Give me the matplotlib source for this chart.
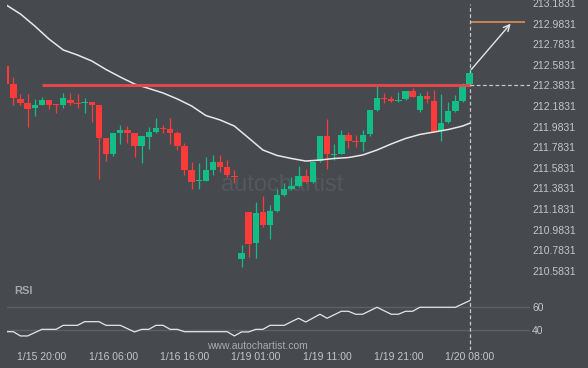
import numpy as np
import matplotlib.pyplot as plt

# hourly candles
opens = [212.572, 212.394, 212.255, 212.216, 212.161, 212.193, 212.239, 212.203, 212.193, 212.239,
         212.213, 212.216, 212.223, 212.193, 211.873, 211.717, 211.924, 211.951, 211.921, 211.798,
         211.887, 211.931, 211.970, 211.960, 211.921, 211.798, 211.562, 211.452, 211.458, 211.562,
         211.640, 211.588, 211.507, 210.698, 211.154, 210.856, 211.154, 211.028, 211.167, 211.319,
         211.375, 211.407, 211.504, 211.448, 211.652, 211.892, 211.708, 211.720, 211.899, 211.844,
         211.834, 211.907, 212.140, 212.258, 212.249, 212.235, 212.247, 212.329, 212.145, 212.281,
         212.232, 211.944, 212.028, 212.135, 212.232, 212.397]
highs = [212.582, 212.465, 212.300, 212.297, 212.249, 212.268, 212.242, 212.203, 212.307, 212.307,
         212.297, 212.258, 212.223, 212.193, 211.873, 211.924, 211.999, 211.989, 211.921, 211.892,
         211.977, 212.067, 212.002, 212.067, 211.938, 211.821, 211.643, 211.627, 211.688, 211.708,
         211.708, 211.659, 211.562, 210.834, 211.154, 211.254, 211.310, 211.222, 211.375, 211.433,
         211.491, 211.601, 211.575, 211.643, 211.892, 212.054, 211.815, 211.946, 211.931, 211.899,
         211.948, 212.145, 212.378, 212.310, 212.281, 212.320, 212.329, 212.358, 212.313, 212.332,
         212.339, 212.297, 212.225, 212.290, 212.410, 212.550]
lows = [212.388, 212.193, 212.193, 211.983, 212.089, 212.189, 212.152, 212.113, 212.167, 212.193,
        212.167, 212.113, 212.031, 211.470, 211.654, 211.698, 211.819, 211.827, 211.688, 211.633,
        211.769, 211.921, 211.919, 211.815, 211.756, 211.513, 211.373, 211.375, 211.455, 211.513,
        211.546, 211.494, 211.439, 210.617, 210.720, 210.704, 211.008, 210.889, 211.154, 211.310,
        211.368, 211.397, 211.436, 211.436, 211.640, 211.575, 211.659, 211.717, 211.776, 211.781,
        211.747, 211.897, 212.135, 212.216, 212.223, 212.227, 212.242, 212.271, 212.125, 212.210,
        211.934, 211.847, 212.023, 212.130, 212.227, 212.392]
closes = [212.400, 212.258, 212.216, 212.152, 212.193, 212.239, 212.193, 212.193, 212.261, 212.216,
          212.203, 212.223, 212.193, 211.876, 211.717, 211.924, 211.951, 211.924, 211.798, 211.892,
          211.931, 211.970, 211.960, 211.924, 211.798, 211.562, 211.448, 211.462, 211.562, 211.640,
          211.594, 211.513, 211.497, 210.753, 210.843, 211.141, 211.028, 211.164, 211.319, 211.375,
          211.407, 211.504, 211.448, 211.643, 211.892, 211.720, 211.720, 211.899, 211.841, 211.834,
          211.899, 212.145, 212.258, 212.247, 212.235, 212.242, 212.329, 212.274, 212.281, 212.249,
          211.934, 212.021, 212.135, 212.232, 212.378, 212.501]

# moving average (sampled every other candle)
ma_idx = [0, 2, 4, 6, 8, 10, 12, 14, 16, 18, 20, 22, 24, 26, 28, 30, 32, 34, 36, 38, 40, 42, 44,
          46, 48, 50, 52, 54, 56, 58, 60, 62, 64, 65]
ma_val = [213.165, 213.077, 212.961, 212.834, 212.728, 212.679, 212.621, 212.538, 212.465, 212.397,
          212.354, 212.310, 212.252, 212.184, 212.091, 212.048, 211.989, 211.873, 211.756, 211.703,
          211.674, 211.649, 211.659, 211.674, 211.683, 211.708, 211.756, 211.815, 211.868, 211.907,
          211.931, 211.955, 211.989, 212.016]

# RSI line vertices
rsi_idx = [0, 1, 2, 3, 5, 7, 8, 10, 11, 13, 14, 16, 18, 19, 20, 21, 22, 23, 24, 25, 31, 32, 33, 34,
           35, 36, 37, 39, 40, 41, 42, 44, 45, 47, 48, 49, 50, 52, 54, 55, 56, 57, 58, 63, 65]
rsi_val = [38.8, 38.8, 35.2, 35.2, 40.8, 40.8, 44.2, 44.2, 47.3, 47.3, 44.2, 44.2, 38.6, 40.8, 40.8,
           44.2, 44.2, 40.8, 40.8, 38.8, 38.8, 35.2, 38.6, 38.6, 40.8, 40.8, 44.2, 44.2, 47.3, 50.2,
           47.0, 53.6, 50.2, 56.1, 56.1, 53.6, 53.6, 59.5, 53.6, 53.6, 56.1, 56.1, 59.5, 59.5, 65.1]

tick_idx = [5, 15, 25, 35, 45, 55, 65]
tick_labels = ['1/15 20:00', '1/16 06:00', '1/16 16:00', '1/19 01:00', '1/19 11:00', '1/19 21:00', '1/20 08:00']
price_ticks = [210.5831 + 0.2 * k for k in range(14)]

resistance = 212.388
resistance_start = 5
last_price_level = 212.3831
target_price = 213.004
arrow_end_idx = 71.0
target_end_idx = 72.8

BG = '#46494e'
GREEN = '#12bd86'
RED = '#fb3a3a'
TXT = '#c4c6c8'

plt.rcParams['font.family'] = ['Liberation Sans', 'DejaVu Sans']

W, H = 588, 368
fig = plt.figure(figsize=(W / 100, H / 100), dpi=100)
fig.patch.set_facecolor(BG)
ax = fig.add_axes([6.7 / W, 1 - 280 / H, 523.3 / W, 280 / H])
ax2 = fig.add_axes([6.7 / W, 1 - 350 / H, 523.3 / W, 70 / H])
xlim = (0.07, 73.46)

for a in (ax, ax2):
    a.set_facecolor(BG)
    for s in a.spines.values():
        s.set_visible(False)
    a.set_xlim(*xlim)

# candles
x = np.arange(len(opens))
o, h, l, c = map(np.array, (opens, highs, lows, closes))
cols = np.where(c >= o, GREEN, RED)
ax.vlines(x, l, h, colors=cols, lw=0.9, zorder=2)
ax.bar(x, np.maximum(np.abs(c - o), 0.009), bottom=np.minimum(o, c), width=0.9,
       color=cols, linewidth=0, zorder=3)

ax.plot(ma_idx, ma_val, color='#e8e8e8', lw=1.1, zorder=4)
ax.hlines(resistance, resistance_start, x[-1], color='#e8474b', lw=2.2, alpha=0.95, zorder=5)
ax.hlines(last_price_level, x[-1], xlim[1], color='#c8c8c8', lw=0.9, linestyles=(0, (3, 2)))
ax.hlines(target_price, x[-1], target_end_idx, color='#f0915a', lw=1.1)
ax.annotate('', xy=(arrow_end_idx, target_price), xytext=(x[-1], highs[-1] - 0.03),
            arrowprops=dict(arrowstyle='->', color='#e6e6e6', lw=1.0, mutation_scale=11))
ax.axvline(x[-1], ymax=1 - 4 / 280, color='#c8c8c8', lw=0.9, ls=(0, (3, 2)))
ax2.axvline(x[-1], color='#c8c8c8', lw=0.9, ls=(0, (3, 2)))

ax.text(0.5255, 0.339, 'autochartist', transform=ax.transAxes, ha='center', va='center',
        fontsize=17, color='#54575c', zorder=1)

ax.set_ylim(210.4936, 213.2132)
ax.set_xticks([])
ax.yaxis.tick_right()
ax.set_yticks(price_ticks)
ax.set_yticklabels(['%.4f' % p for p in price_ticks])
ax.tick_params(axis='y', length=0, pad=1.5, labelsize=7.5, labelcolor=TXT)

# RSI panel
ax2.plot(rsi_idx, rsi_val, color='#e6e6e6', lw=0.9)
ax2.set_ylim(23.3, 82.6)
ax2.set_yticks([40, 60])
ax2.yaxis.tick_right()
ax2.grid(axis='y', color='#5d6065', lw=1)
ax2.set_xticks(tick_idx)
ax2.set_xticklabels(tick_labels)
ax2.tick_params(length=0, labelsize=7.5, labelcolor=TXT)
ax2.tick_params(axis='x', pad=1.5)
ax2.tick_params(axis='y', pad=1.5)
ax2.text(0.0153, 0.843, 'RSI', transform=ax2.transAxes, ha='left', va='center',
         fontsize=8, fontweight='bold', color='#a3a6aa')
ax2.text(0.48, 0.061, 'www.autochartist.com', transform=ax2.transAxes, ha='center', va='center',
         fontsize=7.5, color='#a9abad')

fig.savefig('out.png', dpi=100, facecolor=BG)
